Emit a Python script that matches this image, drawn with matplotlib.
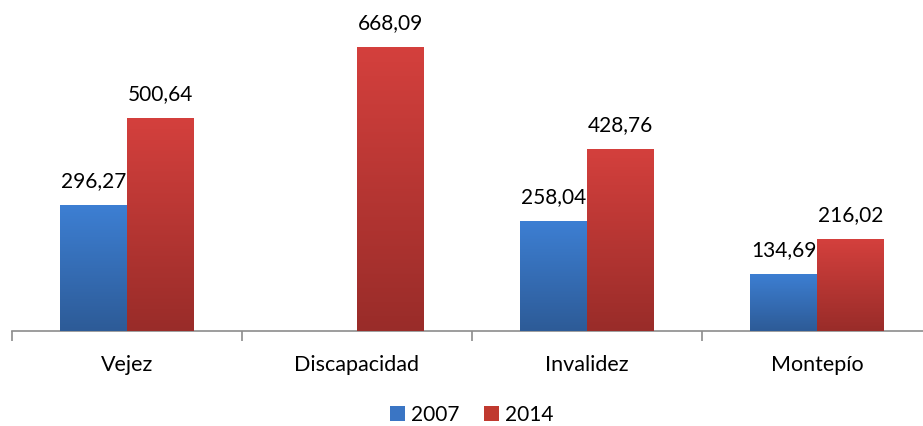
import numpy as np
import matplotlib
matplotlib.use("Agg")
import matplotlib.pyplot as plt
from matplotlib.colors import LinearSegmentedColormap
from matplotlib.patches import Patch

categories = ["Vejez", "Discapacidad", "Invalidez", "Montepío"]
series_names = ["2007", "2014"]
values_2007 = [296.27, np.nan, 258.04, 134.69]
values_2014 = [500.64, 668.09, 428.76, 216.02]
labels_2007 = ["296,27", "", "258,04", "134,69"]
labels_2014 = ["500,64", "668,09", "428,76", "216,02"]

plt.rcParams['font.family'] = ['Lato', 'DejaVu Sans']

fig = plt.figure(figsize=(9.23, 4.26), dpi=100)
ax = fig.add_axes([12/923, (426-331)/426, 920/923, 331/426])

x = np.arange(len(categories))
w = 0.29
grads = [("#3d7fd3", "#2d5b97"), ("#d4403d", "#992c29")]
solid = ["#3a75c4", "#c0392f"]

ax.set_xlim(-0.5, len(categories) - 0.5)
ax.set_ylim(0, 331/0.425)

for i, (vals, labs) in enumerate([(values_2007, labels_2007), (values_2014, labels_2014)]):
    pos = x + (i - 0.5) * w
    bars = ax.bar(pos, vals, w, color=solid[i], zorder=2, linewidth=0)
    cmap = LinearSegmentedColormap.from_list("g%d" % i, [grads[i][1], grads[i][0]])
    for b, v, lab in zip(bars, vals, labs):
        if np.isnan(v):
            continue
        x0, y0 = b.get_x(), b.get_y()
        bw, bh = b.get_width(), b.get_height()
        grad = np.linspace(0, 1, 256).reshape(-1, 1)
        im = ax.imshow(grad, cmap=cmap, origin="lower", aspect="auto",
                       extent=[x0, x0 + bw, y0, y0 + bh], zorder=3)
        im.set_clip_path(b)
        ax.annotate(lab, (x0 + bw/2, bh), xytext=(0, 10), textcoords="offset points",
                    ha="center", va="bottom", fontsize=15, color="#000000", zorder=5)

ax.set_xlim(-0.5, len(categories) - 0.5)
ax.set_ylim(0, 331/0.425)

for s in ["top", "right", "left"]:
    ax.spines[s].set_visible(False)
ax.spines["bottom"].set_color("#8c8c8c")
ax.spines["bottom"].set_linewidth(1.2)
ax.set_yticks([])
ax.set_xticks(np.arange(-0.5, len(categories)), minor=False)
ax.set_xticklabels([])
ax.tick_params(axis="x", which="major", length=7, color="#8c8c8c", width=1.2)
ax.set_xticks(x, minor=True)
ax.set_xticklabels(categories, minor=True, fontsize=15.5)
ax.tick_params(axis="x", which="minor", length=0, pad=17)

handles = [Patch(facecolor=solid[0]), Patch(facecolor=solid[1])]
fig.legend(handles, series_names, loc="center", bbox_to_anchor=(472/923, 1 - 415/426),
           ncol=2, frameon=False, fontsize=15, handlelength=0.7, handleheight=0.7,
           handletextpad=0.3, columnspacing=1.2)

fig.savefig("out.png", dpi=100)
